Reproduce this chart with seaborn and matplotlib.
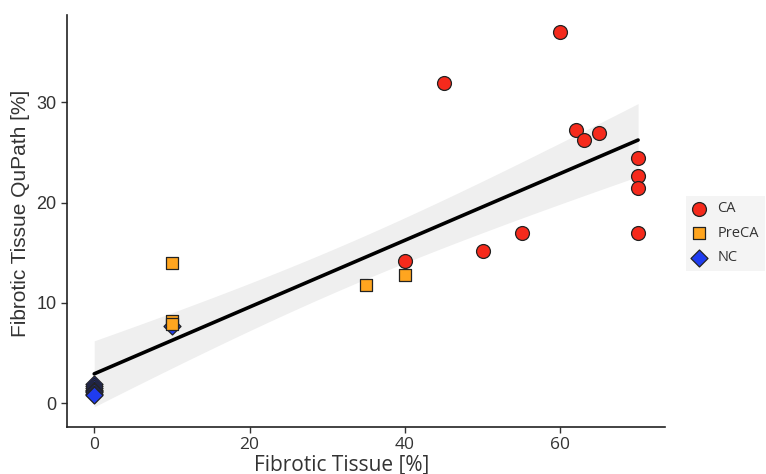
import matplotlib
matplotlib.use("Agg")
import matplotlib.pyplot as plt
import seaborn as sns
import pandas as pd
import numpy as np

sns.set_theme(style="ticks")
plt.rcParams['font.family'] = ['Liberation Sans', 'DejaVu Sans']

# Data
ca_x = [40, 45, 50, 55, 60, 62, 63, 65, 70, 70, 70, 70]
ca_y = [14.2, 31.9, 15.2, 17.0, 37.0, 27.2, 26.2, 26.9, 24.4, 22.7, 21.5, 17.0]
preca_x = [10, 10, 10, 35, 40]
preca_y = [14.0, 8.2, 7.9, 11.8, 12.8]
nc_x = [0, 0, 0, 0, 0, 0, 0, 0, 10]
nc_y = [1.9, 1.7, 1.5, 1.3, 1.2, 1.1, 0.9, 0.8, 7.7]

groups = ['CA', 'PreCA', 'NC']
colors = {'CA': '#f52a1c', 'PreCA': '#ffa51f', 'NC': '#1f3cf0'}
markers = {'CA': 'o', 'PreCA': 's', 'NC': 'D'}
sizes = {'CA': 100, 'PreCA': 70, 'NC': 75}

df = pd.concat([
    pd.DataFrame({'x': ca_x, 'y': ca_y, 'group': 'CA'}),
    pd.DataFrame({'x': preca_x, 'y': preca_y, 'group': 'PreCA'}),
    pd.DataFrame({'x': nc_x, 'y': nc_y, 'group': 'NC'}),
], ignore_index=True)

fig = plt.figure(figsize=(7.66, 4.74), dpi=100)
ax = fig.add_axes([0.0875, 0.099, 0.78, 0.869])

# linear fit with analytic 95% confidence band (like geom_smooth(method="lm"))
x = df['x'].to_numpy(float)
y = df['y'].to_numpy(float)
n = len(x)
slope, intercept = np.polyfit(x, y, 1)
resid = y - (slope * x + intercept)
s = np.sqrt(np.sum(resid ** 2) / (n - 2))
try:
    from scipy import stats
    tval = stats.t.ppf(0.975, n - 2)
except Exception:
    tval = 2.06
grid = np.linspace(x.min(), x.max(), 200)
fit = slope * grid + intercept
se = s * np.sqrt(1 / n + (grid - x.mean()) ** 2 / np.sum((x - x.mean()) ** 2))
ax.fill_between(grid, fit - tval * se, fit + tval * se, color='#efefef', lw=0, zorder=1)
sns.lineplot(x=grid, y=fit, ax=ax, color='black', linewidth=2.6, zorder=2)

# points, NC first so the squares sit on top
for g in ['NC', 'PreCA', 'CA']:
    sub = df[df['group'] == g]
    sns.scatterplot(data=sub, x='x', y='y', ax=ax, color=colors[g],
                    marker=markers[g], s=sizes[g], edgecolor='#222222',
                    linewidth=0.9, label=g, zorder=3)

ax.set_xlim(-3.5, 73.4)
ax.set_ylim(-2.4, 38.7)
ax.set_xticks([0, 20, 40, 60])
ax.set_yticks([0, 10, 20, 30])
ax.tick_params(colors='#333333', length=4, width=1)
for lab in ax.get_xticklabels():
    lab.set_family(['Open Sans', 'DejaVu Sans'])
    lab.set_fontsize(12.5)
    lab.set_color('#333333')
for lab in ax.get_yticklabels():
    lab.set_fontsize(13)
    lab.set_color('#333333')
sns.despine(ax=ax)
for sp in ['left', 'bottom']:
    ax.spines[sp].set_linewidth(1.2)
    ax.spines[sp].set_color('#222222')

ax.set_xlabel('Fibrotic Tissue [%]', fontsize=15, family=['Open Sans', 'DejaVu Sans'],
              color='#333333')
ax.xaxis.set_label_coords(0.46, -0.066)
ax.set_ylabel('Fibrotic Tissue QuPath [%]', fontsize=15, color='#333333')
ax.yaxis.set_label_coords(-0.062, 0.52)

handles, labels = ax.get_legend_handles_labels()
order = [labels.index(g) for g in groups]
leg = ax.legend([handles[i] for i in order], [labels[i] for i in order],
                loc='center left', bbox_to_anchor=(1.036, 0.47), frameon=True,
                facecolor='#f2f2f2', edgecolor='none', fancybox=False,
                fontsize=10.5, handletextpad=0.75, labelspacing=0.65,
                borderpad=0.4, handlelength=1.0, borderaxespad=0)
for t in leg.get_texts():
    t.set_family(['Open Sans', 'DejaVu Sans'])
    t.set_color('#333333')

fig.savefig('out.png', dpi=100)
